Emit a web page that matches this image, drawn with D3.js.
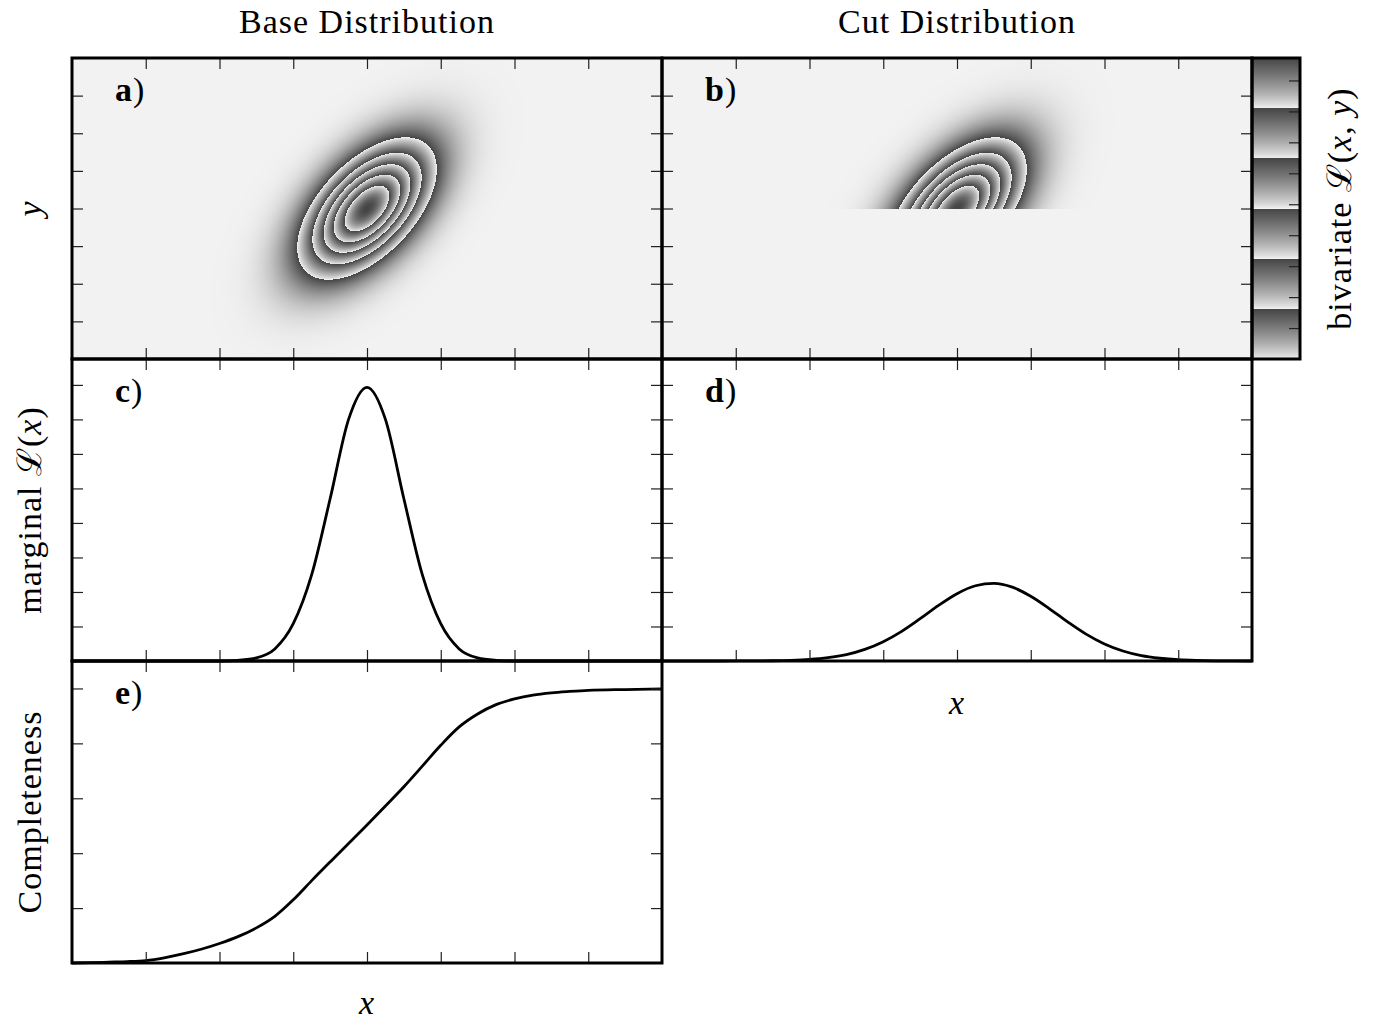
<!DOCTYPE html>
<meta charset="utf-8">
<style>
  body { margin: 0; padding: 0; background: #fff; }
  svg { display: block; background: #fff; }
  text { font-family: "Liberation Serif", "DejaVu Serif", serif; fill: #000; }
  .lbl { font-size: 34px; letter-spacing: 1px; }
  .frame { fill: none; stroke: #000; stroke-width: 3px; }
  .tick line { stroke: #222; stroke-width: 1.2px; }
  .curve { fill: none; stroke: #000; stroke-width: 2.8px; }
</style>
<body>
<svg id="fig" width="1374" height="1020"></svg>
<script src="https://cdn.jsdelivr.net/npm/d3@7"></script>
<script>

// ---- data ----
var xTicks = [-3, -2, -1, 0, 1, 2, 3];
var yTicks2d = [-3, -2, -1, 0, 1, 2, 3];
var margTicks = [2, 4, 6, 8, 10, 12, 14, 16];          // x 1e-3
var compTicks = [0.2, 0.4, 0.6, 0.8, 1.0];
var cbarTicks = [0.04, 0.08, 0.12, 0.16, 0.20, 0.24, 0.28, 0.32, 0.36];

// bivariate gaussian shown in a) and b)
var gaussMean = [0, 0];
var gaussSigma = [0.5, 1.0];
var gaussRho = 0.55;
var gaussPeak = 0.389;   // top of the colour bar
var yCut = 0;            // b) keeps y >= yCut
var nBands = 6;

// marginal curves, c) and d)
var margX = [-4, -3.75, -3.5, -3.25, -3, -2.75, -2.5, -2.25, -2, -1.75, -1.5, -1.25, -1, -0.75, -0.5, -0.25,
             0, 0.25, 0.5, 0.75, 1, 1.25, 1.5, 1.75, 2, 2.25, 2.5, 2.75, 3, 3.25, 3.5, 3.75, 4];
var margBase = [0, 0, 0, 0, 0, 0, 0, 0, 0, 0.04, 0.18, 0.7, 2.16, 5.0, 9.4, 14.0,
                15.86, 14.0, 9.4, 5.0, 2.16, 0.7, 0.18, 0.04, 0, 0, 0, 0, 0, 0, 0, 0, 0];
var margCut = [0, 0, 0, 0, 0.002, 0.006, 0.015, 0.038, 0.088, 0.19, 0.37, 0.67, 1.12, 1.72, 2.45, 3.22,
               3.90, 4.36, 4.50, 4.28, 3.75, 3.04, 2.27, 1.56, 0.99, 0.58, 0.31, 0.16, 0.072, 0.031, 0.012, 0.004, 0];

// completeness, e)
var compX = [-4, -3.75, -3.5, -3.25, -3, -2.75, -2.5, -2.25, -2, -1.75, -1.5, -1.25, -1, -0.75, -0.5, -0.25,
             0, 0.25, 0.5, 0.75, 1, 1.25, 1.5, 1.75, 2, 2.25, 2.5, 2.75, 3, 3.5, 4];
var compY = [0.0, 0.001, 0.003, 0.005, 0.009, 0.019, 0.033, 0.050, 0.071, 0.096, 0.128, 0.170, 0.230, 0.300, 0.368, 0.435,
             0.503, 0.572, 0.642, 0.717, 0.793, 0.860, 0.907, 0.941, 0.962, 0.976, 0.984, 0.989, 0.993, 0.996, 0.998];

// ---- layout ----
var svg = d3.select("#fig");
var cols = [[72, 662], [662, 1252]];
var rows = [[58, 359], [359, 661], [661, 963]];
var cbar = {x0: 1252, x1: 1300, y0: 58, y1: 359};
var heatLight = "#f2f2f2", heatDark = "#454545";
var shade = d3.interpolateRgb(heatLight, heatDark);

function bandColor(v) {
  // v in [0,1]; periodic grey ramp, nBands bands
  if (v <= 0) return d3.rgb(heatLight);
  var s = v * nBands;
  var f = s - Math.floor(s);
  if (v >= 1) f = 1;
  return d3.rgb(shade(Math.pow(f, 0.8)));
}

function gauss(x, y) {
  var dx = (x - gaussMean[0]) / gaussSigma[0];
  var dy = (y - gaussMean[1]) / gaussSigma[1];
  var q = (dx * dx - 2 * gaussRho * dx * dy + dy * dy) / (1 - gaussRho * gaussRho);
  return Math.exp(-q / 2);
}

function panel(c, r, yDomain) {
  var x = d3.scaleLinear().domain([-4, 4]).range(cols[c]);
  var y = d3.scaleLinear().domain(yDomain).range([rows[r][1], rows[r][0]]);
  return {x: x, y: y, x0: cols[c][0], x1: cols[c][1], y0: rows[r][0], y1: rows[r][1]};
}

var pA = panel(0, 0, [-4, 4]);
var pB = panel(1, 0, [-4, 4]);
var pC = panel(0, 1, [0, 17.5]);
var pD = panel(1, 1, [0, 17.5]);
var pE = panel(0, 2, [0, 1.1]);

function drawHeat(p, cut) {
  var w = p.x1 - p.x0, h = p.y1 - p.y0;
  var canvas = document.createElement("canvas");
  canvas.width = w; canvas.height = h;
  var ctx = canvas.getContext("2d");
  var img = ctx.createImageData(w, h);
  for (var j = 0; j < h; j++) {
    var yv = p.y.invert(p.y0 + j + 0.5);
    for (var i = 0; i < w; i++) {
      var xv = p.x.invert(p.x0 + i + 0.5);
      var v = gauss(xv, yv);
      if (cut && yv < yCut) v = 0;
      var col = bandColor(v);
      var k = (j * w + i) * 4;
      img.data[k] = col.r; img.data[k + 1] = col.g; img.data[k + 2] = col.b; img.data[k + 3] = 255;
    }
  }
  ctx.putImageData(img, 0, 0);
  svg.append("image")
    .attr("x", p.x0).attr("y", p.y0)
    .attr("width", w).attr("height", h)
    .attr("preserveAspectRatio", "none")
    .attr("href", canvas.toDataURL());
}

drawHeat(pA, false);
drawHeat(pB, true);

// colour bar
var cScale = d3.scaleLinear().domain([0, gaussPeak]).range([cbar.y1, cbar.y0]);
(function () {
  var w = cbar.x1 - cbar.x0, h = cbar.y1 - cbar.y0;
  var canvas = document.createElement("canvas");
  canvas.width = w; canvas.height = h;
  var ctx = canvas.getContext("2d");
  for (var j = 0; j < h; j++) {
    var v = cScale.invert(cbar.y0 + j + 0.5) / gaussPeak;
    ctx.fillStyle = bandColor(v).toString();
    ctx.fillRect(0, j, w, 1);
  }
  svg.append("image")
    .attr("x", cbar.x0).attr("y", cbar.y0)
    .attr("width", w).attr("height", h)
    .attr("preserveAspectRatio", "none")
    .attr("href", canvas.toDataURL());
})();

// curves
function drawCurve(p, xs, ys) {
  var line = d3.line()
    .x(function (d) { return p.x(d[0]); })
    .y(function (d) { return p.y(d[1]); })
    .curve(d3.curveMonotoneX);
  svg.append("path")
    .attr("class", "curve")
    .attr("d", line(d3.zip(xs, ys)));
}
drawCurve(pC, margX, margBase);
drawCurve(pD, margX, margCut);
drawCurve(pE, compX, compY);

// frames and inward ticks on all four sides
function frame(p, yt) {
  var g = svg.append("g");
  g.append("g").attr("transform", "translate(0," + p.y1 + ")")
    .call(d3.axisBottom(p.x).tickValues(xTicks).tickSize(-11).tickSizeOuter(0).tickFormat(""));
  g.append("g").attr("transform", "translate(0," + p.y0 + ")")
    .call(d3.axisTop(p.x).tickValues(xTicks).tickSize(-11).tickSizeOuter(0).tickFormat(""));
  g.append("g").attr("transform", "translate(" + p.x0 + ",0)")
    .call(d3.axisLeft(p.y).tickValues(yt).tickSize(-11).tickSizeOuter(0).tickFormat(""));
  g.append("g").attr("transform", "translate(" + p.x1 + ",0)")
    .call(d3.axisRight(p.y).tickValues(yt).tickSize(-11).tickSizeOuter(0).tickFormat(""));
  g.selectAll(".domain").remove();
  g.append("rect").attr("class", "frame")
    .attr("x", p.x0).attr("y", p.y0)
    .attr("width", p.x1 - p.x0).attr("height", p.y1 - p.y0);
}
frame(pA, yTicks2d);
frame(pB, yTicks2d);
frame(pC, margTicks);
frame(pD, margTicks);
frame(pE, compTicks);

var cg = svg.append("g");
cg.append("g").attr("transform", "translate(" + cbar.x1 + ",0)")
  .call(d3.axisRight(cScale).tickValues(cbarTicks).tickSize(-11).tickSizeOuter(0).tickFormat(""));
cg.selectAll(".domain").remove();
cg.append("rect").attr("class", "frame")
  .attr("x", cbar.x0).attr("y", cbar.y0)
  .attr("width", cbar.x1 - cbar.x0).attr("height", cbar.y1 - cbar.y0);

// panel letters
[[pA, "a"], [pB, "b"], [pC, "c"], [pD, "d"], [pE, "e"]].forEach(function (d) {
  var t = svg.append("text").attr("class", "lbl")
    .attr("x", d[0].x0 + 43).attr("y", d[0].y0 + 43).style("letter-spacing", "1px");
  t.append("tspan").attr("font-weight", "bold").text(d[1]);
  t.append("tspan").attr("font-weight", "normal").text(")");
});

// titles and axis labels
svg.append("text").attr("class", "lbl").attr("text-anchor", "middle")
  .attr("x", 367).attr("y", 33).text("Base Distribution");
svg.append("text").attr("class", "lbl").attr("text-anchor", "middle")
  .attr("x", 957).attr("y", 33).text("Cut Distribution");

svg.append("text").attr("class", "lbl").attr("text-anchor", "middle")
  .attr("font-style", "italic").attr("x", 367).attr("y", 1014).text("x");
svg.append("text").attr("class", "lbl").attr("text-anchor", "middle")
  .attr("font-style", "italic").attr("x", 957).attr("y", 714).text("x");

function vlabel(x, y, parts) {
  var t = svg.append("text").attr("class", "lbl").attr("text-anchor", "middle")
    .attr("transform", "translate(" + x + "," + y + ") rotate(-90)");
  parts.forEach(function (p) {
    var s = t.append("tspan").text(p[0]);
    if (p[1]) s.attr("font-style", "italic");
  });
}
vlabel(41, (pA.y0 + pA.y1) / 2, [["y", true]]);
vlabel(41, (pC.y0 + pC.y1) / 2, [["marginal ", false], ["\u2112", false], ["(", false], ["x", true], [")", false]]);
vlabel(41, (pE.y0 + pE.y1) / 2, [["Completeness", false]]);
vlabel(1351, (cbar.y0 + cbar.y1) / 2, [["bivariate ", false], ["\u2112", false], ["(", false], ["x", true], [", ", false], ["y", true], [")", false]]);

</script>
</body>
